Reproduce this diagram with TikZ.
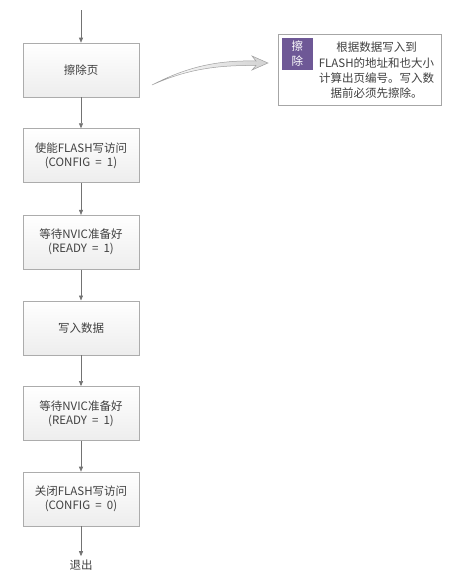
\documentclass[tikz,border=0pt]{standalone}
\usepackage{fontspec}
\setmainfont{Noto Sans CJK SC}
\usepackage{tikz}
\usetikzlibrary{arrows.meta,positioning,calc}
\definecolor{tagviolet}{RGB}{110,88,150}

\begin{document}
\begin{tikzpicture}[
    x=1pt, y=1pt,
    font=\fontsize{11.5}{14}\selectfont,
    box/.style={draw=gray!65, top color=white, bottom color=gray!14,
                minimum width=116pt, minimum height=54pt, align=center,
                line width=0.6pt, text=black!75},
    arr/.style={-{Triangle[length=5pt,width=4pt]}, draw=black!55, line width=0.6pt},
    note/.style={draw=gray!70, fill=white, minimum width=163pt, minimum height=71pt,
                 line width=0.6pt},
    tag/.style={fill=tagviolet, text=white, minimum width=31pt, minimum height=32pt,
                align=center, inner sep=1pt, font=\fontsize{11.5}{15}\selectfont}
]
\useasboundingbox (0,0) rectangle (450,-576);

%% Entry
\coordinate (start) at (81,-10);
\node[box] (erase) at (81,-70) {擦除页};
\draw[arr] (start) -- (erase);

%% Steps
\node[box, below=31pt of erase] (enable) {使能FLASH写访问\\(CONFIG ~=~ 1)};
\draw[arr] (erase) -- (enable);

\node[box, below=32pt of enable] (wait1) {等待NVIC准备好\\(READY ~=~ 1)};
\draw[arr] (enable) -- (wait1);

\node[box, below=31pt of wait1] (write) {写入数据};
\draw[arr] (wait1) -- (write);

\node[box, below=31pt of write] (wait2) {等待NVIC准备好\\(READY ~=~ 1)};
\draw[arr] (write) -- (wait2);

\node[box, below=31pt of wait2] (disable) {关闭FLASH写访问\\(CONFIG ~=~ 0)};
\draw[arr] (wait2) -- (disable);

%% Exit
\node[text=black!75] (exit) at (81,-565) {退出};
\draw[arr] (disable) -- (exit);

%% Note
\node[note] (memo) at (359.5,-69.5) {};
\node[tag, anchor=north west] (memotag) at ($(memo.north west)+(4,-4)$) {擦\\除};
\node[align=center, font=\fontsize{11.5}{15.3}\selectfont, text=black!75, inner sep=0pt]
  (memotext) at ($(memo.center)+(17,-1)$)
  {根据数据写入到\\FLASH的地址和也大小\\计算出页编号。写入数\\据前必须先擦除。};

%% Curved pointer
\coordinate (ctail) at (152,-85);
\coordinate (chead) at (268,-63);
\draw[draw=gray!75, line width=0.5pt, left color=white, right color=gray!35]
  (ctail) .. controls (185,-68) and (215,-60) .. (256,-61)
  -- (252,-56) -- (chead) -- (252,-70) -- (256,-65.5)
  .. controls (215,-65) and (185,-70) .. (ctail) -- cycle;

\end{tikzpicture}
\end{document}
